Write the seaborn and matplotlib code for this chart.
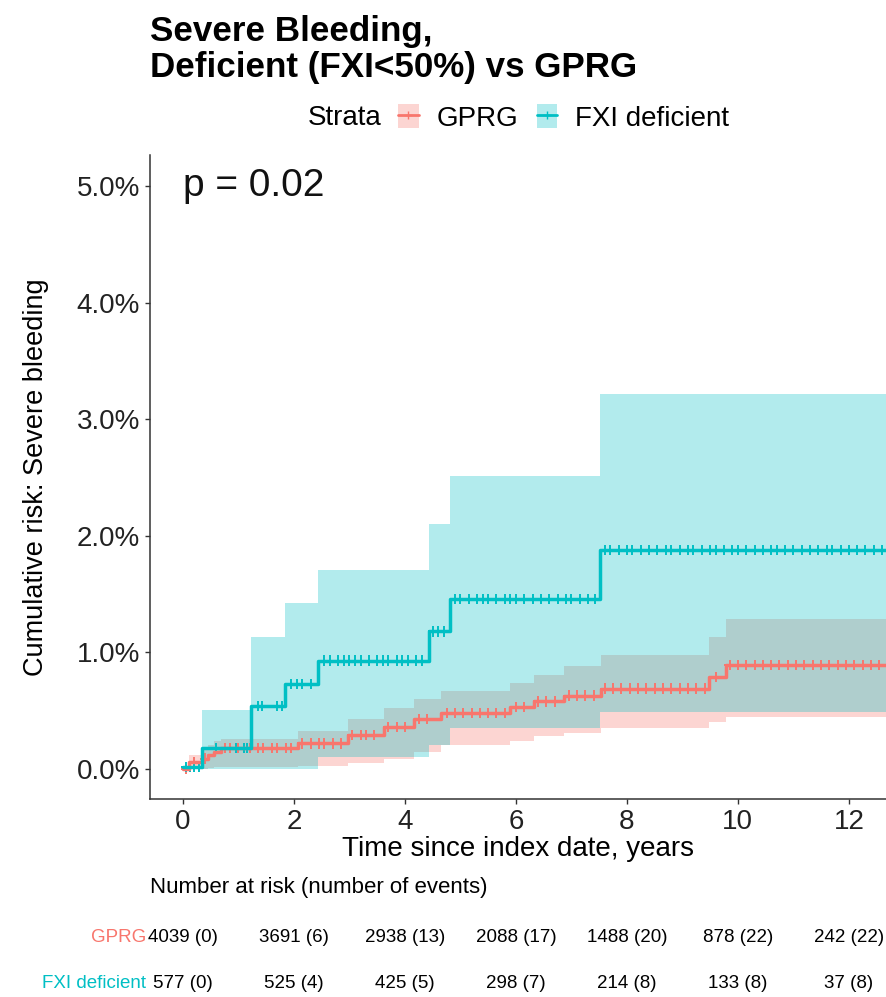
import numpy as np
import pandas as pd
import matplotlib
matplotlib.use("Agg")
import matplotlib.pyplot as plt
import matplotlib.transforms as mtransforms
from matplotlib.patches import Patch
from matplotlib.lines import Line2D
import seaborn as sns

# step curves (percent)
gprg_t = [0, 0.1, 0.35, 0.45, 0.55, 0.68, 2.07, 2.97, 3.63, 4.17, 4.65, 5.9, 6.32, 6.86, 7.53, 9.48, 9.78, 13.0]
gprg_est = [0.0, 0.06, 0.09, 0.12, 0.15, 0.18, 0.22, 0.29, 0.36, 0.43, 0.48, 0.53, 0.58, 0.63, 0.69, 0.79, 0.89, 0.89]
gprg_hi = [0.0, 0.12, 0.17, 0.21, 0.24, 0.26, 0.33, 0.43, 0.52, 0.60, 0.67, 0.74, 0.81, 0.88, 0.98, 1.13, 1.29, 1.29]
gprg_lo = [0.0, 0.0, 0.0, 0.01, 0.02, 0.02, 0.03, 0.05, 0.09, 0.15, 0.21, 0.24, 0.28, 0.31, 0.35, 0.40, 0.45, 0.45]

fxi_t = [0, 0.35, 1.23, 1.83, 2.43, 4.43, 4.81, 7.51, 13.0]
fxi_est = [0.02, 0.18, 0.54, 0.73, 0.93, 1.18, 1.46, 1.88, 1.88]
fxi_hi = [0.02, 0.51, 1.13, 1.42, 1.71, 2.10, 2.51, 3.22, 3.22]
fxi_lo = [0.02, 0.0, 0.0, 0.0, 0.10, 0.21, 0.35, 0.49, 0.49]

# censoring marks (years)
gprg_cens = [0.05, 0.2, 0.4, 0.75, 0.85, 1.0, 1.1, 1.2, 1.35, 1.45, 1.6, 1.7, 1.85, 1.95, 2.15, 2.3, 2.45,
             2.55, 2.7, 2.85, 3.05, 3.2, 3.3, 3.45, 3.7, 3.85, 4.0, 4.25, 4.4, 4.75, 4.9, 5.05, 5.2, 5.35,
             5.5, 5.65, 5.8, 6.0, 6.15, 6.4, 6.55, 6.7, 6.95, 7.1, 7.25, 7.4, 7.6, 7.75, 7.9, 8.05, 8.2,
             8.35, 8.5, 8.65, 8.8, 8.95, 9.1, 9.25, 9.4, 9.6, 9.85, 10.0, 10.15, 10.3, 10.45, 10.6, 10.75,
             10.9, 11.05, 11.2, 11.35, 11.5, 11.65, 11.8, 11.95, 12.1, 12.25, 12.4, 12.55]
fxi_cens = [0.05, 0.12, 0.2, 0.28, 0.6, 0.95, 1.1, 1.15, 1.35, 1.42, 1.7, 1.78, 1.95, 2.05, 2.15, 2.3, 2.55,
            2.65, 2.8, 2.9, 3.0, 3.1, 3.2, 3.35, 3.5, 3.6, 3.7, 3.85, 3.95, 4.05, 4.2, 4.3, 4.5, 4.6, 4.7,
            4.9, 5.0, 5.15, 5.3, 5.4, 5.5, 5.65, 5.8, 5.9, 6.0, 6.15, 6.3, 6.45, 6.6, 6.75, 6.9, 7.0, 7.15,
            7.3, 7.42, 7.6, 7.7, 7.85, 8.0, 8.1, 8.25, 8.4, 8.55, 8.7, 8.8, 8.95, 9.1, 9.2, 9.35, 9.5, 9.6,
            9.75, 9.9, 10.0, 10.15, 10.3, 10.45, 10.6, 10.7, 10.85, 11.0, 11.15, 11.3, 11.45, 11.6, 11.7,
            11.85, 12.0, 12.15, 12.3, 12.45, 12.6]

# risk table
risk_times = [0, 2, 4, 6, 8, 10, 12]
gprg_risk = ["4039 (0)", "3691 (6)", "2938 (13)", "2088 (17)", "1488 (20)", "878 (22)", "242 (22)"]
fxi_risk = ["577 (0)", "525 (4)", "425 (5)", "298 (7)", "214 (8)", "133 (8)", "37 (8)"]

RED = "#F8766D"
CYAN = "#00BFC4"

sns.set_theme(style="white")
plt.rcParams["font.family"] = ["Liberation Sans", "DejaVu Sans"]
plt.rcParams["text.color"] = "black"

fig = plt.figure(figsize=(8.86, 9.97), dpi=100)
ax = fig.add_axes([0.1693, 0.1986, 0.8307, 0.646])

curves = pd.concat([
    pd.DataFrame({"t": gprg_t, "risk": gprg_est, "Strata": "GPRG"}),
    pd.DataFrame({"t": fxi_t, "risk": fxi_est, "Strata": "FXI deficient"}),
])
pal = {"GPRG": RED, "FXI deficient": CYAN}

# GPRG ribbon first, FXI on top (gives the grey-teal overlap)
for t, lo, hi, c in [(gprg_t, gprg_lo, gprg_hi, RED), (fxi_t, fxi_lo, fxi_hi, CYAN)]:
    ax.fill_between(t, lo, hi, step="post", color=c, alpha=0.3, linewidth=0)

sns.lineplot(data=curves, x="t", y="risk", hue="Strata", palette=pal, estimator=None,
             drawstyle="steps-post", linewidth=2.5, legend=False, ax=ax)


def step_at(times, vals, pts):
    idx = np.searchsorted(times, pts, side="right") - 1
    return np.asarray(vals)[idx]


cens = pd.concat([
    pd.DataFrame({"t": gprg_cens, "risk": step_at(gprg_t, gprg_est, gprg_cens), "Strata": "GPRG"}),
    pd.DataFrame({"t": fxi_cens, "risk": step_at(fxi_t, fxi_est, fxi_cens), "Strata": "FXI deficient"}),
])
sns.scatterplot(data=cens, x="t", y="risk", hue="Strata", palette=pal, marker="+", s=55,
                linewidth=1.4, legend=False, ax=ax)

ax.set_xlim(-0.595, 12.67)
ax.set_ylim(-0.257, 5.266)
ax.set_xticks(risk_times)
ax.set_yticks([0, 1, 2, 3, 4, 5])
ax.set_yticklabels([f"{v:.1f}%" for v in [0, 1, 2, 3, 4, 5]])
ax.tick_params(axis="both", labelsize=20, length=3.7, width=1, color="#333333",
               labelcolor="#222222", pad=3.5, bottom=True, left=True)
sns.despine(ax=ax)
for s in ["left", "bottom"]:
    ax.spines[s].set_color("#333333")
    ax.spines[s].set_linewidth(1.1)
ax.set_xlabel("Time since index date, years", fontsize=20, labelpad=1, color="black")
ax.set_ylabel("Cumulative risk: Severe bleeding", fontsize=19.5, labelpad=20, color="black")

ax.text(0.0, 5.0, "p = 0.02", fontsize=28, ha="left", va="center", color="#111111")

# title
fig.text(0.1693, 0.985, "Severe Bleeding,\nDeficient (FXI<50%) vs GPRG", fontsize=25.2,
         fontweight="bold", ha="left", va="top", linespacing=1.12, color="black")

# legend
fig.text(0.3475, 0.8816, "Strata", fontsize=20, ha="left", va="center")
handles = [(Patch(facecolor=RED, alpha=0.3, edgecolor="none"), Line2D([], [], color=RED, marker="+", lw=2)),
           (Patch(facecolor=CYAN, alpha=0.3, edgecolor="none"), Line2D([], [], color=CYAN, marker="+", lw=2))]
fig.legend(handles, ["GPRG", "FXI deficient"], loc="center left", bbox_to_anchor=(0.449, 0.8816),
           ncol=2, frameon=False, fontsize=20, handlelength=0.75, handleheight=0.9,
           handletextpad=0.65, columnspacing=0.65, borderpad=0, borderaxespad=0)

# risk table
tr = mtransforms.blended_transform_factory(ax.transData, fig.transFigure)
fig.text(0.1693, 0.1103, "Number at risk (number of events)", fontsize=16, ha="left", va="center")
for ypos, name, col, vals in [(0.0592, "GPRG", RED, gprg_risk), (0.014, "FXI deficient", CYAN, fxi_risk)]:
    fig.text(0.1648, ypos, name, fontsize=13.5, color=col, ha="right", va="center")
    for t, v in zip(risk_times, vals):
        ax.text(t, ypos, v, transform=tr, fontsize=13.5, ha="center", va="center", clip_on=False)

fig.savefig("out.png", dpi=100)
